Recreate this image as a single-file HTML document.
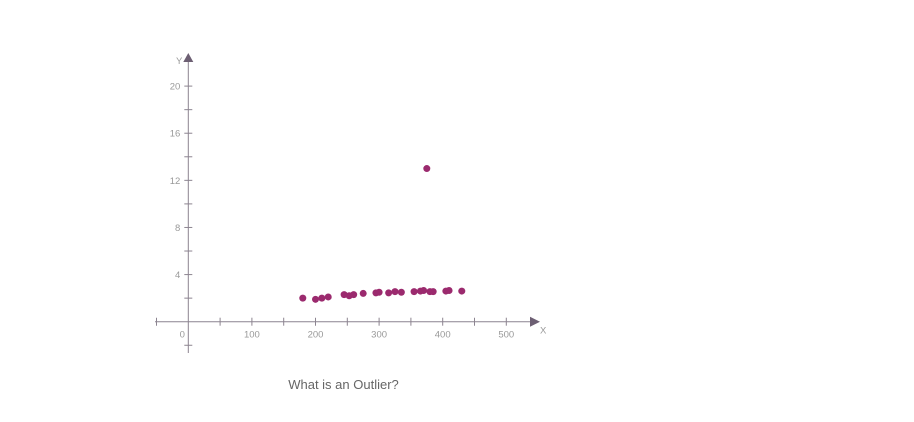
<!DOCTYPE html>
<html><head><meta charset="utf-8"><style>
body{margin:0;background:#fff;width:914px;height:422px;overflow:hidden;font-family:"Liberation Sans",sans-serif}
svg{position:absolute;left:0;top:0}
</style></head><body>
<svg id="chart" width="914" height="422" xmlns="http://www.w3.org/2000/svg"></svg>
<script>
const xVals=[180,200,210,220,245,253,260,275,295,300,315,325,335,355,365,370,380,385,405,410,430,375];
const yVals=[2.0,1.9,2.0,2.1,2.3,2.2,2.3,2.4,2.45,2.5,2.45,2.55,2.5,2.55,2.6,2.65,2.55,2.55,2.6,2.65,2.6,13];
const xTickLabels=[0,100,200,300,400,500];
const yTickLabels=[4,8,12,16,20];
const NS="http://www.w3.org/2000/svg";
const svg=document.getElementById('chart');
const X0=188.3,Y0=321.7;
const sx=v=>X0+v*0.636;
const sy=v=>Y0-v*11.78;
function mk(tag,attrs,parent){const e=document.createElementNS(NS,tag);for(const k in attrs)e.setAttribute(k,attrs[k]);(parent||svg).appendChild(e);return e;}
const axisC="#8c8490";
const xa=mk('line',{x1:155,y1:Y0,x2:532,y2:Y0,stroke:axisC,'stroke-width':1});


const ya=mk('line',{x1:X0,y1:353,x2:X0,y2:62,stroke:axisC,'stroke-width':1});


const xArr=mk('polygon',{points:`530,${Y0-5} 540,${Y0} 530,${Y0+5}`,fill:'#6d5f73'});


const yArr=mk('polygon',{points:`${X0-5},62 ${X0},53 ${X0+5},62`,fill:'#6d5f73'});


for(let v=-50;v<=500;v+=50){if(v===0)continue;const t=mk('line',{x1:sx(v),y1:Y0-4,x2:sx(v),y2:Y0+4,stroke:axisC});

}
for(let v=-2;v<=20;v+=2){if(v===0)continue;const t=mk('line',{x1:X0-4,y1:sy(v),x2:X0+4,y2:sy(v),stroke:axisC});

}
xTickLabels.forEach(v=>{const t=mk('text',{x:v===0?X0-6:sx(v),y:Y0+16,'text-anchor':'middle','font-size':9.5,fill:'#999'});t.textContent=v;

});
yTickLabels.forEach(v=>{const t=mk('text',{x:X0-8,y:sy(v)+3.5,'text-anchor':'end','font-size':9.5,fill:'#999'});t.textContent=v;

});
const xl=mk('text',{x:540,y:Y0+12,'font-size':9.5,fill:'#999'});xl.textContent='X';


const yl=mk('text',{x:176,y:64,'font-size':9.5,fill:'#999'});yl.textContent='Y';


xVals.forEach((v,i)=>{const c=mk('circle',{cx:sx(v),cy:sy(yVals[i]),r:3.5,fill:'#9b2a6e'});

});
const ti=mk('text',{x:343.5,y:389,'text-anchor':'middle','font-size':13,fill:'#666'});ti.textContent='What is an Outlier?';


</script>
</body></html>
